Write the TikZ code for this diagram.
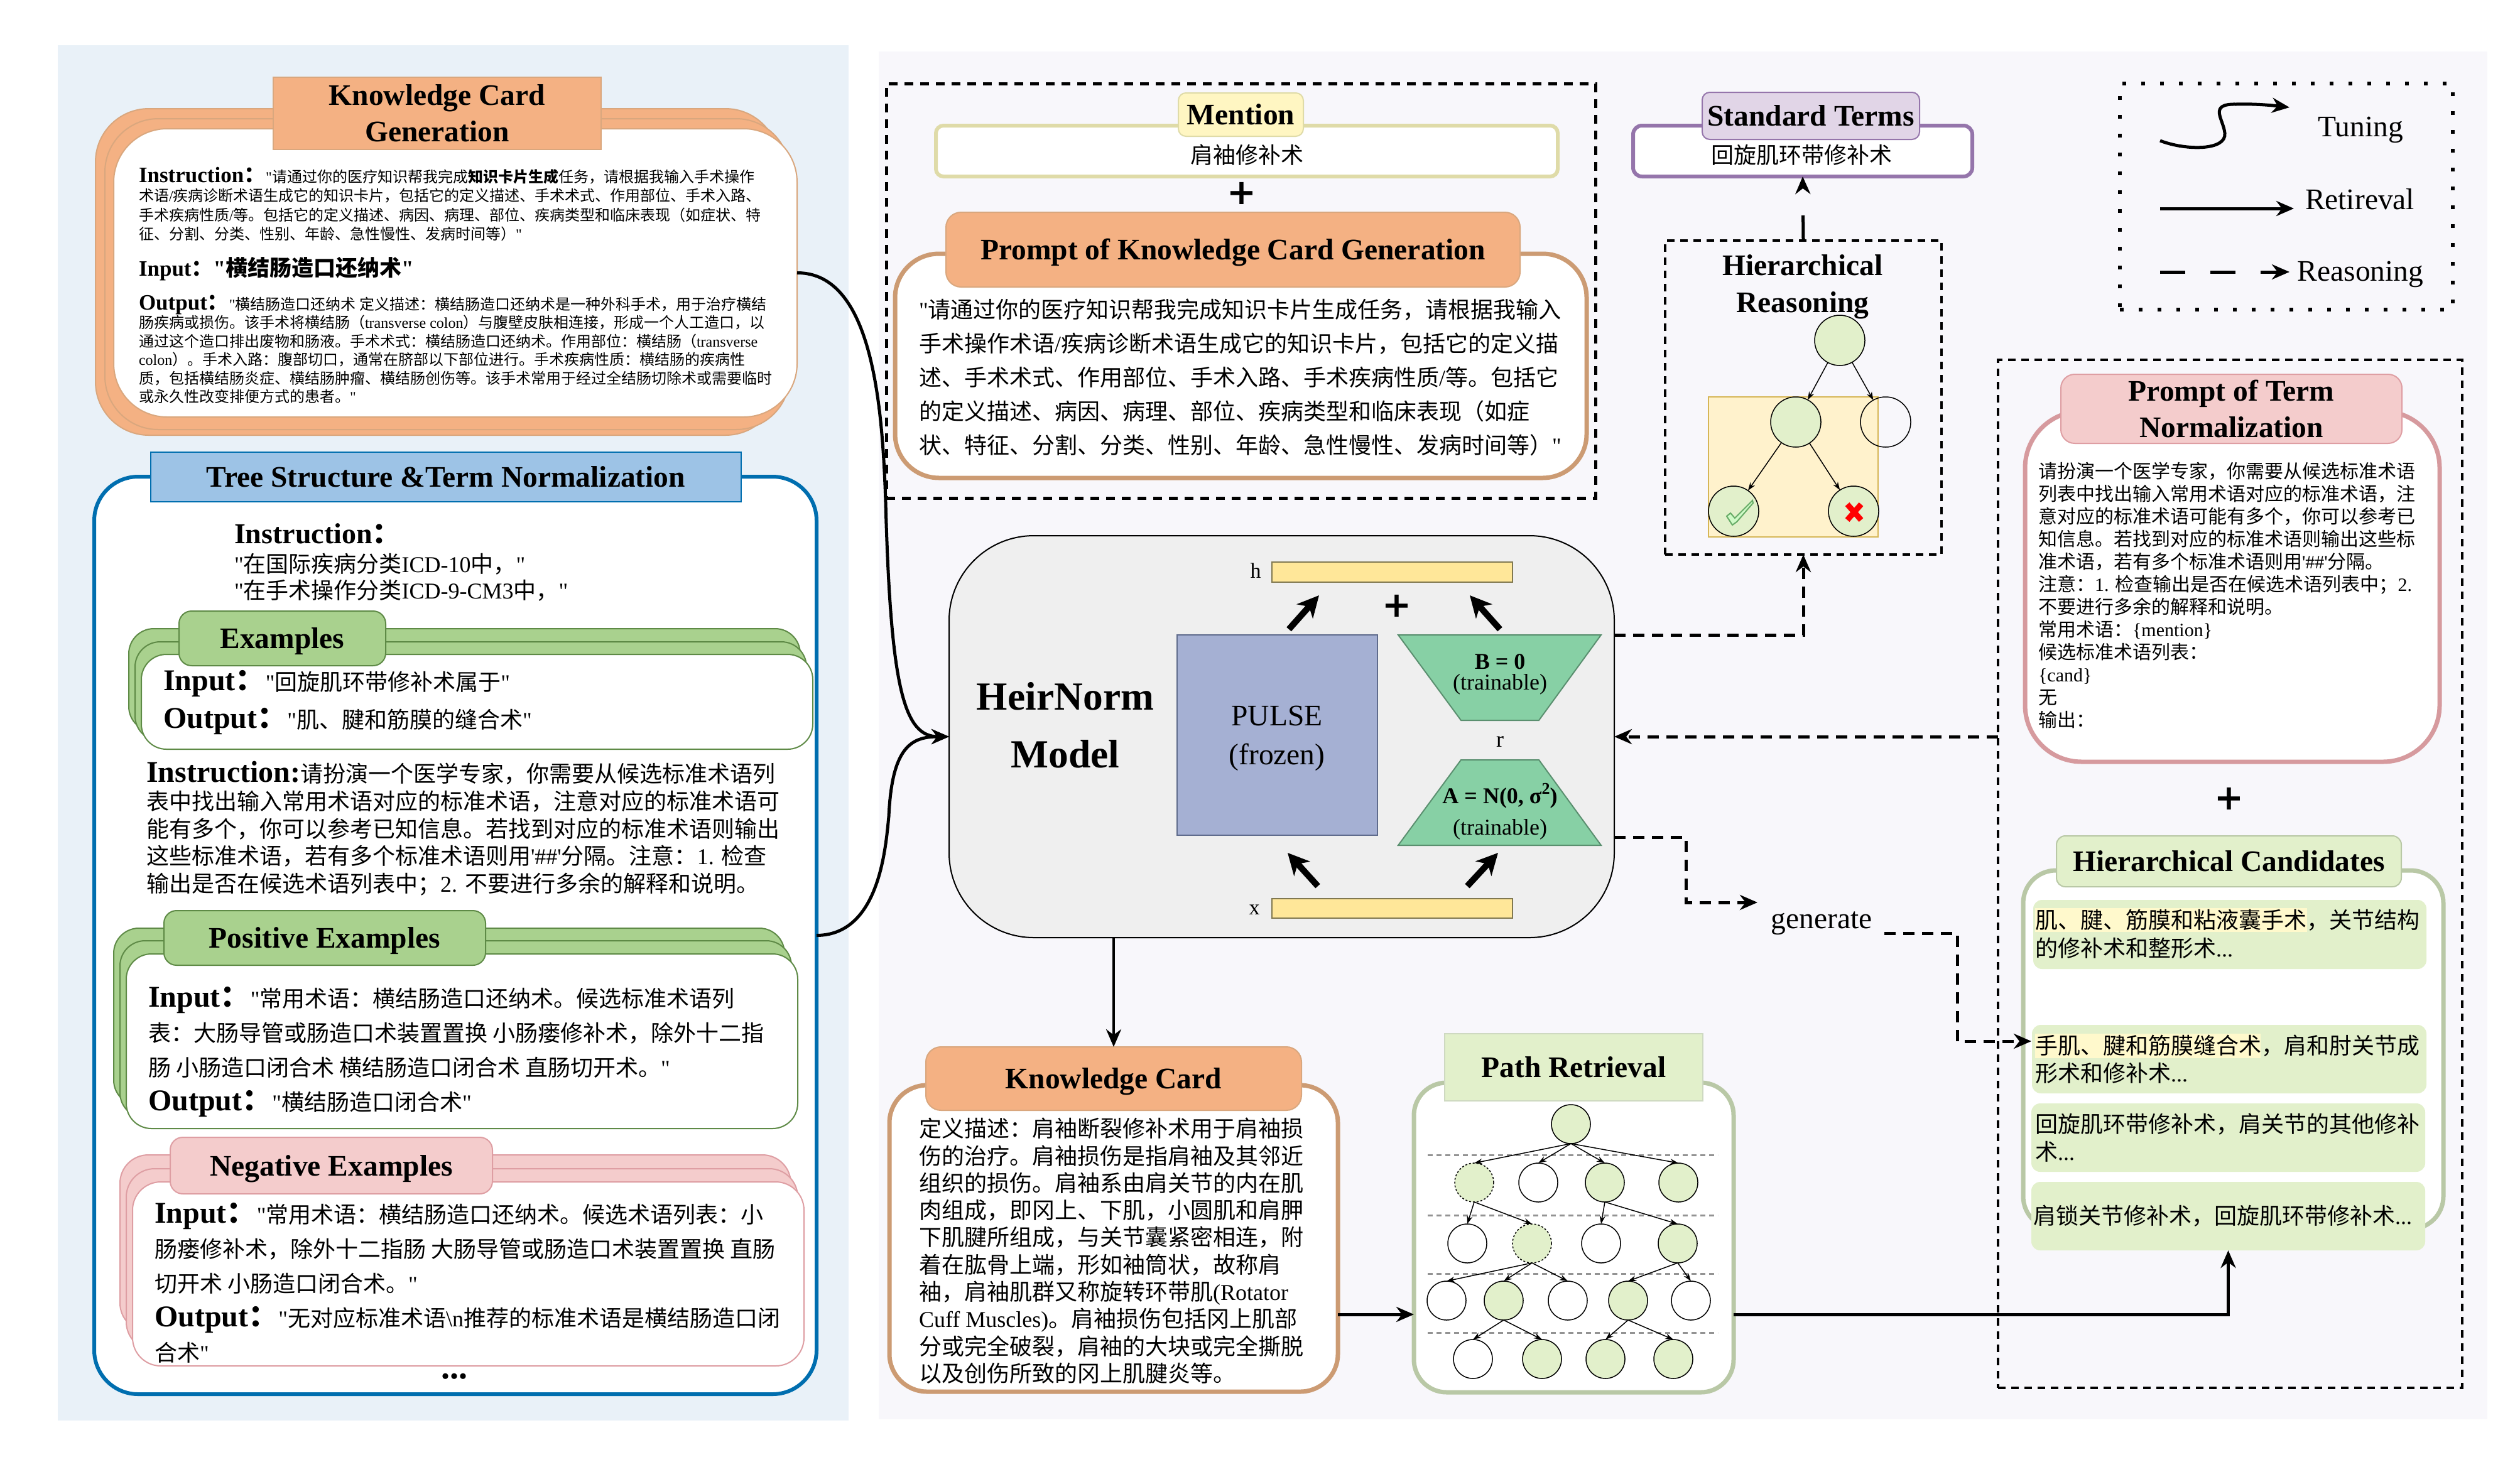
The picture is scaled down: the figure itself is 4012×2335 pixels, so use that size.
\documentclass[tikz,border=0pt]{standalone}
\usepackage{fontspec}
\usetikzlibrary{arrows.meta}
\setmainfont{Liberation Serif}
\newfontfamily\latfam{Liberation Serif}
\newfontfamily\cjkfam{Noto Sans CJK SC}
\newfontfamily\plusfam{DejaVu Sans}
\setbox0\hbox{\cjkfam 一\bfseries 一}
\setbox0\hbox{\latfam x\bfseries x}
\setbox0\hbox{\plusfam\bfseries +}
\newXeTeXintercharclass\cjkcls
\newcount\cjkloop
\newcommand\setcjkrange[2]{\cjkloop=#1 \loop\XeTeXcharclass\cjkloop=\cjkcls\relax\ifnum\cjkloop<#2 \advance\cjkloop by 1 \repeat}
\setcjkrange{"3000}{"30FF}
\setcjkrange{"3400}{"9FFF}
\setcjkrange{"FF00}{"FFEF}
\XeTeXinterchartokenstate=1
\XeTeXinterchartoks 0 \cjkcls={\cjkfam}
\XeTeXinterchartoks \cjkcls 0={\latfam}
\XeTeXinterchartoks 4095 \cjkcls={\cjkfam}
\XeTeXinterchartoks 4095 0={\latfam}
\definecolor{orangeF}{HTML}{F4B183}
\definecolor{orangeL}{HTML}{D9A77E}
\definecolor{orangeC}{HTML}{CC9B73}
\definecolor{blueP}{HTML}{E9F1F8}
\definecolor{rightP}{HTML}{F8F7FB}
\definecolor{blueL}{HTML}{006EAF}
\definecolor{blueF}{HTML}{9DC3E6}
\definecolor{greenF}{HTML}{A9D18E}
\definecolor{greenL}{HTML}{5E8A46}
\definecolor{pinkF}{HTML}{F4CCCC}
\definecolor{pinkL}{HTML}{DE9EA3}
\definecolor{pinkC}{HTML}{D69A9E}
\definecolor{paleG}{HTML}{E2F0CB}
\definecolor{paleL}{HTML}{B9C8A6}
\definecolor{yelF}{HTML}{FFF6C2}
\definecolor{yelL}{HTML}{DFDBA8}
\definecolor{hlY}{HTML}{FFF9CC}
\definecolor{purF}{HTML}{E1D5E7}
\definecolor{purL}{HTML}{9575AB}
\definecolor{barF}{HTML}{FFE799}
\definecolor{barL}{HTML}{807850}
\definecolor{pulseF}{HTML}{A5B0D3}
\definecolor{pulseL}{HTML}{5F6B8C}
\definecolor{trapF}{HTML}{87D0A5}
\definecolor{trapL}{HTML}{5A8F6F}
\definecolor{modelF}{HTML}{EFEFEF}
\definecolor{treeY}{HTML}{FFF2CC}
\definecolor{treeYL}{HTML}{D6B656}
\tikzset{
 txt/.style={anchor=north west,inner sep=0pt,outer sep=0pt,align=left},
 ctx/.style={inner sep=0pt,outer sep=0pt,align=center},
 ttl/.style={font=\fontsize{47.5}{58}\selectfont\bfseries,align=center},
 one/.style={text height=32pt,text depth=0pt},
 kcgstack/.style={draw=orangeL,line width=2pt,fill=orangeF,rounded corners=85pt},
 kcgfront/.style={draw=orangeL,line width=2pt,fill=white,rounded corners=85pt},
 tabO/.style={draw=orangeL,line width=2pt,fill=orangeF,ttl},
 tabOr/.style={tabO,one,rounded corners=24pt},
 frameT/.style={draw=blueL,line width=6pt,fill=white,rounded corners=70pt},
 tabB/.style={draw=blueL,line width=2pt,fill=blueF,ttl,one},
 gstack/.style={draw=greenL,line width=2pt,fill=greenF,rounded corners=40pt},
 gfront/.style={draw=greenL,line width=2pt,fill=white,rounded corners=40pt},
 tabG/.style={draw=greenL,line width=2pt,fill=greenF,ttl,one,rounded corners=20pt},
 pstack/.style={draw=pinkL,line width=2pt,fill=pinkF,rounded corners=45pt},
 pfront/.style={draw=pinkL,line width=2pt,fill=white,rounded corners=45pt},
 tabP/.style={draw=pinkL,line width=2pt,fill=pinkF,ttl,one,rounded corners=20pt},
 frameD/.style={draw=black,line width=5pt,dash pattern=on 14pt off 11pt},
 frameS/.style={draw=black,line width=4pt,dash pattern=on 12pt off 9pt},
 frameP/.style={draw=black,line width=6pt,dash pattern=on 6pt off 24pt},
 cardO/.style={draw=orangeC,line width=7pt,fill=white,rounded corners=70pt},
 cardG/.style={draw=paleL,line width=7pt,fill=white,rounded corners=52pt},
 cardK/.style={draw=pinkC,line width=7pt,fill=white,rounded corners=90pt},
 strip/.style={fill=paleG,rounded corners=14pt},
 hlbox/.style={fill=hlY},
 tnode/.style={circle,draw=black,line width=1.5pt,inner sep=0pt,outer sep=0pt},
 hnode/.style={tnode,minimum size=80pt},
 pnode/.style={tnode,minimum size=62pt},
 gn/.style={fill=paleG},
 dn/.style={dashed},
 tedge/.style={draw=black,line width=1.5pt,-{Stealth[length=13pt,width=9pt]}},
 conn/.style={draw=black,line width=5pt,-{Stealth[length=28pt,width=24pt,inset=9pt]}},
 dconn/.style={conn,dash pattern=on 18pt off 12pt},
 blockarrow/.style={draw=black,line width=10pt,-{Stealth[length=34pt,width=34pt,inset=10pt]}},
 sep/.style={draw=gray!85,line width=3pt,dash pattern=on 8pt off 6pt},
 plusmark/.style={inner sep=0pt,outer sep=0pt},
}
% named box from its corners
\newcommand\rb[7]{%
 \pgfmathsetmacro\cxx{(#3+#5)/2}\pgfmathsetmacro\cyy{(#4+#6)/2}%
 \pgfmathsetmacro\ww{#5-#3}\pgfmathsetmacro\hh{#6-#4}%
 \node[#2,inner sep=0pt,outer sep=0pt,minimum width=\ww pt,minimum height=\hh pt] (#1) at (\cxx,\cyy) {#7};}
% left aligned text: name, x, centre of first line, size, pitch, text
\newcommand\tl[6]{%
 \pgfmathsetmacro\ty{#3-0.62*#4}%
 \node[txt,font=\fontsize{#4}{#5}\selectfont] (#1) at (#2,\ty) {\lineskiplimit=-1000pt\relax\vrule width 0pt height #4pt depth 0pt\relax #6};}
% centred text
\newcommand\ct[6][]{\node[ctx,font=\fontsize{#5}{#5}\selectfont #1] (#2) at (#3,#4) {#6};}
\newcommand\B[2]{{\fontsize{#1}{40}\selectfont\bfseries #2}}
\newcommand\plussign{\XeTeXinterchartokenstate=0 \plusfam\bfseries\fontsize{56}{60}\selectfont +}
\begin{document}
\begin{tikzpicture}[x=1pt,y=-1pt]
\useasboundingbox (0,0) rectangle (4012,2335);
\fill[white] (0,0) rectangle (4012,2335);
\fill[blueP] (92,72) rectangle (1351,2262);
\fill[rightP] (1399,82) rectangle (3960,2260);

% ---------- Knowledge Card Generation
\rb{kcgA}{kcgstack}{152}{173}{1240}{693}{}
\rb{kcgB}{kcgstack}{167}{189}{1257}{684}{}
\rb{kcgF}{kcgfront}{181}{205}{1269}{664}{}
\rb{kcgT}{tabO}{435}{123}{957}{238}{Knowledge Card\\Generation}
\tl{kcgI}{221}{281}{24}{30.5}{\B{35}{Instruction：}"请通过你的医疗知识帮我完成{\bfseries 知识卡片生成}任务，请根据我输入手术操作\\
术语/疾病诊断术语生成它的知识卡片，包括它的定义描述、手术术式、作用部位、手术入路、\\
手术疾病性质/等。包括它的定义描述、病因、病理、部位、疾病类型和临床表现（如症状、特\\
征、分割、分类、性别、年龄、急性慢性、发病时间等）"}
\tl{kcgN}{221}{426}{35}{40}{{\bfseries Input："横结肠造口还纳术"}}
\tl{kcgO}{221}{484}{24}{29.5}{\B{35}{Output：}"横结肠造口还纳术 定义描述：横结肠造口还纳术是一种外科手术，用于治疗横结\\
肠疾病或损伤。该手术将横结肠（transverse colon）与腹壁皮肤相连接，形成一个人工造口，以\\
通过这个造口排出废物和肠液。手术术式：横结肠造口还纳术。作用部位：横结肠（transverse\\
colon）。手术入路：腹部切口，通常在脐部以下部位进行。手术疾病性质：横结肠的疾病性\\
质，包括横结肠炎症、横结肠肿瘤、横结肠创伤等。该手术常用于经过全结肠切除术或需要临时\\
或永久性改变排便方式的患者。"}

% ---------- Tree Structure & Term Normalization
\rb{tree}{frameT}{150}{759}{1300}{2220}{}
\rb{treeT}{tabB}{240}{720}{1180}{799}{Tree Structure \&Term Normalization}
\tl{trI}{373}{848}{46}{50}{{\bfseries Instruction：}}
\tl{trIa}{373}{898}{36}{42}{"在国际疾病分类ICD-10中，"\\"在手术操作分类ICD-9-CM3中，"}

\rb{exA}{gstack}{205}{1001}{1274}{1165}{}
\rb{exB}{gstack}{215}{1022}{1284}{1180}{}
\rb{exF}{gfront}{225}{1042}{1294}{1193}{}
\rb{exT}{tabG}{285}{973}{614}{1060}{Examples}
\tl{exI}{260}{1086}{36}{60}{\B{48}{Input：}"回旋肌环带修补术属于"\\\B{48}{Output：}"肌、腱和筋膜的缝合术"}

\tl{trJ}{233}{1232}{36}{43.7}{\B{48}{Instruction:}请扮演一个医学专家，你需要从候选标准术语列\\
表中找出输入常用术语对应的标准术语，注意对应的标准术语可\\
能有多个，你可以参考已知信息。若找到对应的标准术语则输出\\
这些标准术语，若有多个标准术语则用'\#\#'分隔。注意：1. 检查\\
输出是否在候选术语列表中；2. 不要进行多余的解释和说明。}

\rb{poA}{gstack}{181}{1478}{1249}{1760}{}
\rb{poB}{gstack}{191}{1498}{1260}{1780}{}
\rb{poF}{gfront}{201}{1519}{1270}{1797}{}
\rb{poT}{tabG}{261}{1450}{773}{1537}{Positive Examples}
\tl{poI}{236}{1590}{36}{55}{\B{48}{Input：}"常用术语：横结肠造口还纳术。候选标准术语列\\
表：大肠导管或肠造口术装置置换 小肠瘘修补术，除外十二指\\
肠 小肠造口闭合术 横结肠造口闭合术 直肠切开术。"\\
\B{48}{Output：}"横结肠造口闭合术"}

\rb{neA}{pstack}{191}{1839}{1259}{2120}{}
\rb{neB}{pstack}{201}{1861}{1270}{2150}{}
\rb{neF}{pfront}{211}{1882}{1280}{2175}{}
\rb{neT}{tabP}{271}{1811}{784}{1901}{Negative Examples}
\tl{neI}{246}{1934}{36}{55}{\B{48}{Input：}"常用术语：横结肠造口还纳术。候选术语列表：小\\
肠瘘修补术，除外十二指肠 大肠导管或肠造口术装置置换 直肠\\
切开术 小肠造口闭合术。"\\
\B{48}{Output：}"无对应标准术语\textbackslash n推荐的标准术语是横结肠造口闭\\
合术"}
\ct[\bfseries]{dots}{723}{2192}{56}{...}

% ---------- Mention + prompt
\rb{fr1}{frameD}{1411}{133}{2540}{793}{}
\rb{mentB}{draw=yelL,line width=6pt,fill=white,rounded corners=12pt}{1490}{200}{2480}{281}{}
\rb{mentT}{draw=yelL,line width=2pt,fill=yelF,rounded corners=12pt,ttl,one}{1876}{148}{2075}{217}{Mention}
\ct{mentX}{1985}{247}{36}{肩袖修补术}
\node[plusmark] (plus1) at (1977,308) {\plussign};
\rb{pkB}{cardO}{1425}{404}{2526}{761}{}
\rb{pkT}{tabOr}{1506}{338}{2420}{457}{Prompt of Knowledge Card Generation}
\tl{pkX}{1463}{493}{36}{54}{"请通过你的医疗知识帮我完成知识卡片生成任务，请根据我输入\\
手术操作术语/疾病诊断术语生成它的知识卡片，包括它的定义描\\
述、手术术式、作用部位、手术入路、手术疾病性质/等。包括它\\
的定义描述、病因、病理、部位、疾病类型和临床表现（如症\\
状、特征、分割、分类、性别、年龄、急性慢性、发病时间等）"}

% ---------- Standard terms
\rb{stdB}{draw=purL,line width=6pt,fill=white,rounded corners=14pt}{2600}{200}{3140}{281}{}
\rb{stdT}{draw=purL,line width=2pt,fill=purF,rounded corners=12pt,ttl,one}{2710}{147}{3056}{222}{Standard Terms}
\ct{stdX}{2868}{247}{36}{回旋肌环带修补术}

% ---------- Hierarchical reasoning
\rb{hier}{frameS}{2651}{383}{3091}{883}{}
\ct[\bfseries]{hierT}{2870}{457}{47.5}{Hierarchical\\[11pt]Reasoning}
\fill[treeY,draw=treeYL,line width=2pt] (2720,632) rectangle (2990,855);
\node[hnode,gn] (hr) at (2929,542) {};
\node[hnode,gn] (hl) at (2859,672) {};
\node[hnode] (hw) at (3002,672) {};
\node[hnode,gn] (hok) at (2760,814) {};
\node[hnode,gn] (hno) at (2951,814) {};
\draw[tedge] (hr) -- (hl);
\draw[tedge] (hr) -- (hw);
\draw[tedge] (hl) -- (hok);
\draw[tedge] (hl) -- (hno);
\filldraw[fill=paleG!70!green!50,draw=green!45!black!60,line width=2pt]
 (2749,822) -- (2755,817) -- (2762,825) -- (2790,797) -- (2791,801) -- (2765,831) -- (2758,836) -- cycle;
\draw[red,line width=9pt] (2941,803) -- (2963,828) (2963,803) -- (2941,828);

% ---------- Legend
\rb{leg}{frameP}{3375}{133}{3905}{493}{}
\coordinate (tu0) at (3439,224); \coordinate (tu1) at (3645,171);
\coordinate (re0) at (3439,332); \coordinate (re1) at (3652,332);
\coordinate (ra0) at (3439,433); \coordinate (ra1) at (3645,433);
\draw[conn] (tu0) .. controls (3480,240) and (3545,240) .. (3542,212) .. controls (3540,190) and (3515,165) .. (3560,166) .. controls (3590,165) and (3620,168) .. (tu1);
\draw[conn] (re0) -- (re1);
\draw[conn,dash pattern=on 40pt off 40pt] (ra0) -- (ra1);
\ct{legA}{3758}{207}{47.5}{Tuning}
\ct{legB}{3757}{317}{47.5}{Retireval}
\ct{legC}{3758}{437}{47.5}{Reasoning}

% ---------- Term prompt frame
\rb{fr2}{frameS}{3181}{573}{3920}{2210}{}
\rb{tmB}{cardK}{3224}{655}{3884}{1213}{}
\rb{tmT}{draw=pinkL,line width=2pt,fill=pinkF,rounded corners=22pt,ttl}{3281}{596}{3824}{706}{Prompt of Term\\Normalization}
\tl{tmX}{3245}{750}{30}{36}{请扮演一个医学专家，你需要从候选标准术语\\
列表中找出输入常用术语对应的标准术语，注\\
意对应的标准术语可能有多个，你可以参考已\\
知信息。若找到对应的标准术语则输出这些标\\
准术语，若有多个标准术语则用'\#\#'分隔。\\
注意：1. 检查输出是否在候选术语列表中；2.\\
不要进行多余的解释和说明。\\
常用术语：\{mention\}\\
候选标准术语列表：\\
\{cand\}\\
无\\
输出：}
\node[plusmark] (plus2) at (3549,1272) {\plussign};
\rb{hcB}{cardG}{3221}{1386}{3890}{1957}{}
\rb{hcT}{draw=paleL,line width=2pt,fill=paleG,rounded corners=14pt,ttl,one}{3274}{1331}{3823}{1412}{Hierarchical Candidates}
\rb{s1}{strip}{3237}{1433}{3863}{1543}{}
\rb{s2}{strip}{3235}{1632}{3863}{1741}{}
\rb{s3}{strip}{3234}{1757}{3861}{1866}{}
\rb{s4}{strip}{3234}{1882}{3861}{1991}{}
\rb{h1}{hlbox}{3240}{1446}{3673}{1484}{}
\rb{h2}{hlbox}{3240}{1646}{3599}{1685}{}
\tl{s1x}{3240}{1465}{36}{45}{肌、腱、筋膜和粘液囊手术，关节结构\\的修补术和整形术...}
\tl{s2x}{3240}{1665}{36}{44}{手肌、腱和筋膜缝合术，肩和肘关节成\\形术和修补术...}
\tl{s3x}{3240}{1790}{36}{44}{回旋肌环带修补术，肩关节的其他修补\\术...}
\tl{s4x}{3237}{1936}{36}{44}{肩锁关节修补术，回旋肌环带修补术...}

% ---------- HeirNorm model
\rb{model}{draw=black,line width=2pt,fill=modelF,rounded corners=135pt}{1511}{853}{2570}{1493}{}
\ct[\bfseries]{mT}{1696}{1155}{63.5}{HeirNorm\\[29pt]Model}
\rb{hbar}{draw=barL,line width=2.5pt,fill=barF}{2025}{895}{2408}{927}{}
\rb{xbar}{draw=barL,line width=2.5pt,fill=barF}{2025}{1431}{2408}{1462}{}
\ct{hlab}{1999}{909}{34}{h}
\ct{xlab}{1997}{1449}{34}{x}
\rb{pulse}{draw=pulseL,line width=2.5pt,fill=pulseF}{1874}{1011}{2193}{1330}{}
\ct{pulseX}{2033}{1176}{47.5}{PULSE\\[14pt](frozen)}
\filldraw[fill=trapF,draw=trapL,line width=2pt] (2226,1011) -- (2549,1011) -- (2450,1147) -- (2326,1147) -- cycle;
\filldraw[fill=trapF,draw=trapL,line width=2pt] (2326,1210) -- (2450,1210) -- (2549,1346) -- (2226,1346) -- cycle;
\ct[\bfseries]{bt}{2388}{1054}{36}{B = 0}
\ct{bt2}{2388}{1090}{36}{(trainable)}
\ct{rlab}{2388}{1181}{36}{r}
\ct[\bfseries]{at}{2388}{1267}{36}{A = N(0, σ\raisebox{.42em}{\fontsize{26}{26}\selectfont 2})}
\ct{at2}{2388}{1321}{36}{(trainable)}
\node[plusmark] (plus3) at (2224,965) {\plussign};
\coordinate (a1) at (2052,1002); \coordinate (a1e) at (2100,948);
\coordinate (a2) at (2388,1002); \coordinate (a2e) at (2340,948);
\coordinate (a3) at (2098,1411); \coordinate (a3e) at (2050,1358);
\coordinate (a4) at (2336,1411); \coordinate (a4e) at (2385,1358);
\draw[blockarrow] (a1) -- (a1e);
\draw[blockarrow] (a2) -- (a2e);
\draw[blockarrow] (a3) -- (a3e);
\draw[blockarrow] (a4) -- (a4e);

% ---------- Knowledge card
\rb{kcB}{cardO,rounded corners=60pt}{1416}{1728}{2130}{2216}{}
\rb{kcT}{tabOr}{1474}{1667}{2072}{1768}{Knowledge Card}
\tl{kcX}{1463}{1797}{36}{43.3}{定义描述：肩袖断裂修补术用于肩袖损\\
伤的治疗。肩袖损伤是指肩袖及其邻近\\
组织的损伤。肩袖系由肩关节的内在肌\\
肉组成，即冈上、下肌，小圆肌和肩胛\\
下肌腱所组成，与关节囊紧密相连，附\\
着在肱骨上端，形如袖筒状，故称肩\\
袖，肩袖肌群又称旋转环带肌(Rotator\\
Cuff Muscles)。肩袖损伤包括冈上肌部\\
分或完全破裂，肩袖的大块或完全撕脱\\
以及创伤所致的冈上肌腱炎等。}

% ---------- Path retrieval
\rb{paB}{cardG}{2251}{1724}{2760}{2217}{}
\rb{paT}{draw=paleL!70,line width=2pt,fill=paleG,ttl,one}{2300}{1646}{2711}{1753}{Path Retrieval}
\coordinate (ls1) at (2273,1839); \coordinate (le1) at (2735,1839);
\coordinate (ls2) at (2273,1935); \coordinate (le2) at (2735,1935);
\coordinate (ls3) at (2273,2028); \coordinate (le3) at (2735,2028);
\coordinate (ls4) at (2273,2122); \coordinate (le4) at (2735,2122);
\draw[sep] (ls1) -- (le1);
\draw[sep] (ls2) -- (le2);
\draw[sep] (ls3) -- (le3);
\draw[sep] (ls4) -- (le4);
\node[pnode,gn] (p0) at (2501,1790) {};
\node[pnode,gn,dn] (p1a) at (2347,1883) {};
\node[pnode,fill=white] (p1b) at (2449,1883) {};
\node[pnode,gn] (p1c) at (2555,1883) {};
\node[pnode,gn] (p1d) at (2672,1883) {};
\node[pnode,fill=white] (p2a) at (2336,1980) {};
\node[pnode,gn,dn] (p2b) at (2439,1980) {};
\node[pnode,fill=white] (p2c) at (2549,1980) {};
\node[pnode,gn] (p2d) at (2671,1980) {};
\node[pnode,fill=white] (p3a) at (2303,2071) {};
\node[pnode,gn] (p3b) at (2394,2071) {};
\node[pnode,fill=white] (p3c) at (2496,2071) {};
\node[pnode,gn] (p3d) at (2592,2071) {};
\node[pnode,fill=white] (p3e) at (2692,2071) {};
\node[pnode,fill=white] (p4a) at (2345,2164) {};
\node[pnode,gn] (p4b) at (2455,2164) {};
\node[pnode,gn] (p4c) at (2556,2164) {};
\node[pnode,gn] (p4d) at (2664,2164) {};
\foreach \s/\t in {p0/p1a,p0/p1b,p0/p1c,p0/p1d,p1a/p2a,p1a/p2b,p1c/p2c,p1c/p2d,p2b/p3a,p2b/p3b,p2b/p3c,p2d/p3d,p2d/p3e,p3b/p4a,p3b/p4b,p3d/p4c,p3d/p4d}
  \draw[tedge] (\s.south) -- (\t.north);

% ---------- Connectors
\draw[conn] (kcgF.east) .. controls (1390,434) and (1405,650) .. (1410,800) .. controls (1418,1100) and (1440,1173) .. (model.west);
\draw[conn] (tree.east) .. controls (1400,1489) and (1410,1350) .. (1415,1300) .. controls (1420,1190) and (1450,1173) .. (model.west);
\draw[conn,line width=4pt] (kcT.north |- model.south) -- (kcT.north);
\draw[conn] (kcB.east |- 0,2093) -- (paB.west |- 0,2093);
\draw[conn] (paB.east |- 0,2093) -| (s4.south);
\draw[conn,dash pattern=on 40pt off 56pt] (hier.north) -- (stdB.south);
\coordinate (mA) at (2570,1011);
\coordinate (mB) at (2570,1333);
\coordinate (tIn) at (3181,1173);
\coordinate (gIn) at (2798,1437);
\coordinate (gOut) at (3000,1486);
\coordinate (cIn) at (3234,1658);
\draw[dconn] (mA) -| (hier.south);
\draw[dconn] (tIn) -- (model.east);
\draw[dconn] (mB) -- ++(114,0) |- (gIn);
\ct{gen}{2900}{1470}{47.5}{generate}
\draw[dconn] (gOut) -- ++(116,0) |- (cIn);
\end{tikzpicture}
\end{document}
